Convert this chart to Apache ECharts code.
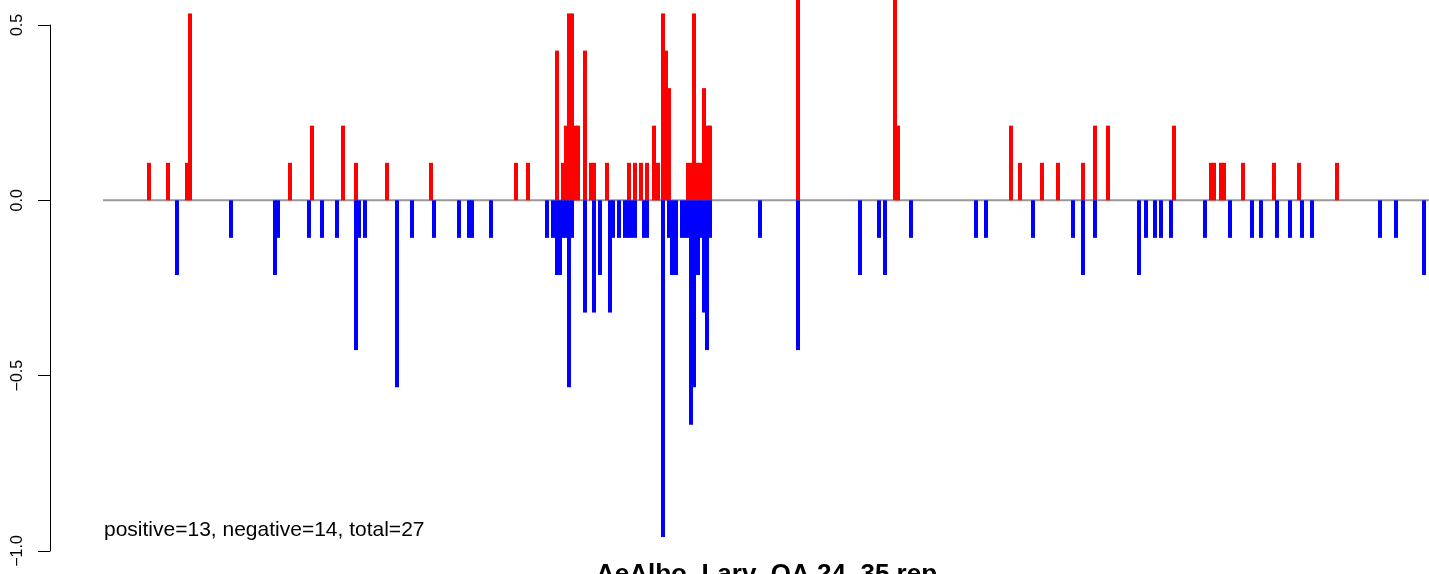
<!DOCTYPE html>
<html>
<head>
<meta charset="utf-8">
<script src="https://cdn.jsdelivr.net/npm/echarts@6/dist/echarts.min.js"></script>
<style>
html,body{margin:0;padding:0;background:#fff;}
#chart{width:1429px;height:574px;}
</style>
</head>
<body>
<div id="chart"></div>
<script>
// positions along the sequence (arbitrary linear units) and values
const posPositions = [149,168,187,190,290,312,343,356,387,431,516,528,557,563,566,569,572,575,578,585,591,594,607,629,635,641,647,654,658,663,666,669,688,691,694,697,700,704,708,710,798,895,898,1011,1020,1042,1058,1083,1095,1108,1174,1211,1214,1221,1224,1243,1274,1299,1337];
const posValues = [0.107,0.107,0.107,0.533,0.107,0.213,0.213,0.107,0.107,0.107,0.107,0.107,0.427,0.107,0.213,0.533,0.533,0.213,0.213,0.427,0.107,0.107,0.107,0.107,0.107,0.107,0.107,0.213,0.107,0.533,0.427,0.32,0.107,0.107,0.533,0.107,0.107,0.32,0.213,0.213,0.75,0.75,0.213,0.213,0.107,0.107,0.107,0.107,0.213,0.213,0.213,0.107,0.107,0.107,0.107,0.107,0.107,0.107,0.107];
const negPositions = [177,231,275,278,309,322,337,356,359,365,397,412,434,459,469,472,491,547,553,557,560,563,566,569,572,585,594,600,610,613,619,625,628,631,635,644,647,663,669,672,676,682,685,688,691,694,698,701,704,707,710,760,798,860,879,885,911,976,986,1033,1073,1083,1095,1139,1146,1155,1161,1171,1205,1230,1252,1261,1277,1290,1302,1312,1380,1396,1424];
const negValues = [-0.213,-0.107,-0.213,-0.107,-0.107,-0.107,-0.107,-0.427,-0.107,-0.107,-0.533,-0.107,-0.107,-0.107,-0.107,-0.107,-0.107,-0.107,-0.107,-0.213,-0.213,-0.107,-0.107,-0.533,-0.107,-0.32,-0.32,-0.213,-0.32,-0.107,-0.107,-0.107,-0.107,-0.107,-0.107,-0.107,-0.107,-0.96,-0.107,-0.213,-0.213,-0.107,-0.107,-0.107,-0.64,-0.533,-0.213,-0.107,-0.32,-0.427,-0.107,-0.107,-0.427,-0.213,-0.107,-0.213,-0.107,-0.107,-0.107,-0.107,-0.107,-0.213,-0.107,-0.213,-0.107,-0.107,-0.107,-0.107,-0.107,-0.107,-0.107,-0.107,-0.107,-0.107,-0.107,-0.107,-0.107,-0.107,-0.213];
const zeroLineRange = [103, 1429];
const yTicks = [-1.0, -0.5, 0.0, 0.5];
const countsText = 'positive=13, negative=14, total=27';
const mainTitle = 'AeAlbo_Larv_OA 24_35 rep';

const FONT = '"Liberation Sans", Arial, Helvetica, sans-serif';
const chart = echarts.init(document.getElementById('chart'), null, {renderer: 'canvas'});
chart.setOption({
  animation: false,
  backgroundColor: '#ffffff',
  title: [
    {text: countsText, left: 99, top: 515,
     textStyle: {fontFamily: FONT, fontSize: 21, fontWeight: 'normal', color: '#000'}},
    {text: mainTitle, left: 591, top: 557,
     textStyle: {fontFamily: FONT, fontSize: 26, fontWeight: 'bold', color: '#000'}}
  ],
  grid: {left: 50, right: 0, top: 25, bottom: 23},
  xAxis: {
    type: 'value', min: 50, max: 1429,
    show: false
  },
  yAxis: {
    type: 'value', min: yTicks[0], max: yTicks[yTicks.length - 1], interval: 0.5,
    axisLine: {show: true, lineStyle: {color: '#000', width: 1}},
    axisTick: {show: true, length: 12, lineStyle: {color: '#000', width: 1}},
    splitLine: {show: false},
    axisLabel: {
      rotate: 90, margin: 24, color: '#000', fontFamily: FONT, fontSize: 16,
      formatter: v => (v < 0 ? '\u2212' : '') + Math.abs(v).toFixed(1)
    }
  },
  series: [
    {
      type: 'line', data: zeroLineRange.map(x => [x, 0]), symbol: 'none', z: 1,
      lineStyle: {color: '#999999', width: 2}, silent: true
    },
    {
      type: 'bar', name: 'positive', barWidth: 4, barGap: '-100%', clip: false, z: 2,
      itemStyle: {color: '#ff0000'},
      data: posPositions.map((p, i) => [p, posValues[i]])
    },
    {
      type: 'bar', name: 'negative', barWidth: 4, barGap: '-100%', clip: false, z: 2,
      itemStyle: {color: '#0000ff'},
      data: negPositions.map((p, i) => [p, negValues[i]])
    }
  ]
});
</script>
</body>
</html>
